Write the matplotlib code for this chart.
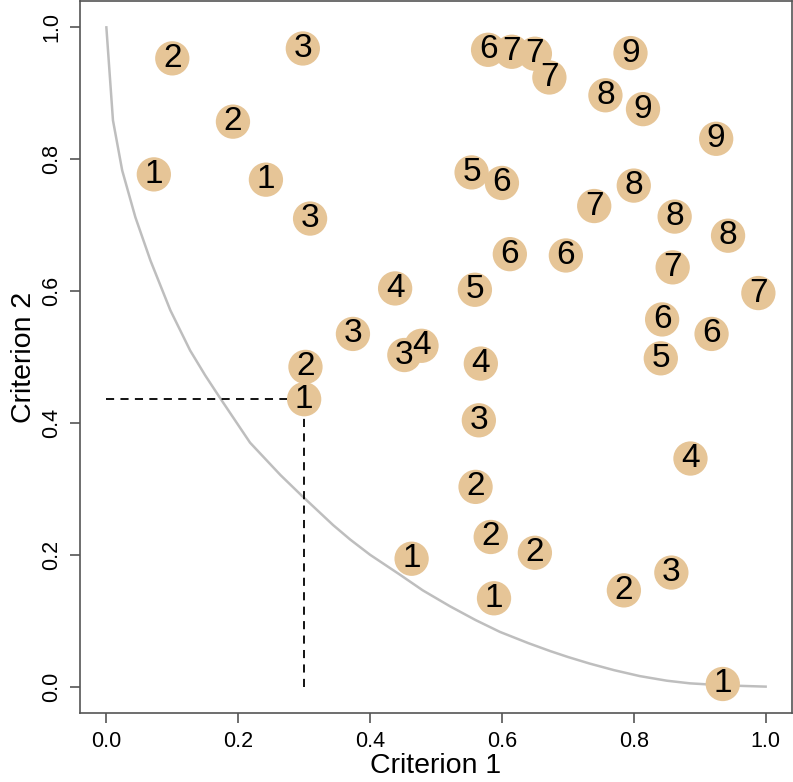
import numpy as np
import matplotlib
matplotlib.use("Agg")
from matplotlib import pyplot as plt

plt.rcParams['font.family'] = ['Liberation Sans', 'DejaVu Sans']

# solutions: criterion values and front rank
crit1 = [0.100, 0.298, 0.192, 0.072, 0.242, 0.309, 0.438, 0.374, 0.452, 0.478,
         0.302, 0.300, 0.554, 0.600, 0.579, 0.615, 0.650, 0.672, 0.795, 0.757,
         0.814, 0.925, 0.800, 0.740, 0.862, 0.943, 0.612, 0.697, 0.859, 0.989,
         0.559, 0.843, 0.918, 0.841, 0.568, 0.565, 0.886, 0.560, 0.583, 0.650,
         0.463, 0.588, 0.785, 0.857, 0.935]
crit2 = [0.953, 0.968, 0.857, 0.777, 0.769, 0.710, 0.604, 0.535, 0.503, 0.517,
         0.485, 0.436, 0.780, 0.764, 0.966, 0.963, 0.960, 0.924, 0.961, 0.897,
         0.876, 0.831, 0.760, 0.729, 0.713, 0.684, 0.656, 0.654, 0.636, 0.597,
         0.602, 0.557, 0.535, 0.498, 0.490, 0.404, 0.346, 0.303, 0.227, 0.203,
         0.194, 0.134, 0.146, 0.173, 0.004]
rank = [2, 3, 2, 1, 1, 3, 4, 3, 3, 4,
        2, 1, 5, 6, 6, 7, 7, 7, 9, 8,
        9, 9, 8, 7, 8, 8, 6, 6, 7, 7,
        5, 6, 6, 5, 4, 3, 4, 2, 2, 2,
        1, 1, 2, 3, 1]

# true front
front_x = [0.0, 0.010, 0.024, 0.044, 0.067, 0.097, 0.127, 0.150, 0.173, 0.218,
           0.264, 0.296, 0.344, 0.370, 0.400, 0.445, 0.480, 0.521, 0.560, 0.597,
           0.640, 0.673, 0.700, 0.733, 0.770, 0.809, 0.850, 0.885, 0.935, 1.0]
front_y = [1.0, 0.859, 0.783, 0.712, 0.646, 0.571, 0.510, 0.472, 0.437, 0.370,
           0.321, 0.290, 0.245, 0.223, 0.200, 0.170, 0.146, 0.122, 0.101, 0.083,
           0.066, 0.054, 0.045, 0.035, 0.025, 0.016, 0.009, 0.005, 0.002, 0.0]

ref_pt = (0.300, 0.436)

fig = plt.figure(figsize=(7.93, 7.82), dpi=100)
ax = fig.add_axes([80 / 793, 1 - 713 / 782, 712 / 793, 712 / 782])

ax.plot(front_x, front_y, color='#BEBEBE', lw=1.8, zorder=1)
ax.plot([0, ref_pt[0]], [ref_pt[1], ref_pt[1]], color='black', lw=1.3,
        dashes=(4.5, 3.5), zorder=2)
ax.plot([ref_pt[0], ref_pt[0]], [0, ref_pt[1]], color='black', lw=1.3,
        dashes=(4.5, 3.5), zorder=2)

ax.scatter(crit1, crit2, s=610, color='#E6C597', edgecolors='none', zorder=3)
for x, y, r in zip(crit1, crit2, rank):
    ax.text(x, y, str(r), ha='center', va='center', fontsize=24,
            color='black', zorder=4)

ax.set_xlim(-0.04, 1.04)
ax.set_ylim(-0.04, 1.04)
ticks = np.arange(0, 1.01, 0.2)
ax.set_xticks(ticks)
ax.set_yticks(ticks)
ax.set_xticklabels(["%.1f" % t for t in ticks])
ax.set_yticklabels(["%.1f" % t for t in ticks], rotation=90, va='center')
ax.tick_params(length=7, width=1.2, color='#555555', labelsize=15.5, pad=6)

for sp in ax.spines.values():
    sp.set_color('#555555')
    sp.set_linewidth(1.2)

ax.set_xlabel("Criterion 1", fontsize=20.5, labelpad=1)
ax.set_ylabel("Criterion 2", fontsize=20.5, labelpad=3)

fig.savefig("out.png", dpi=100)
